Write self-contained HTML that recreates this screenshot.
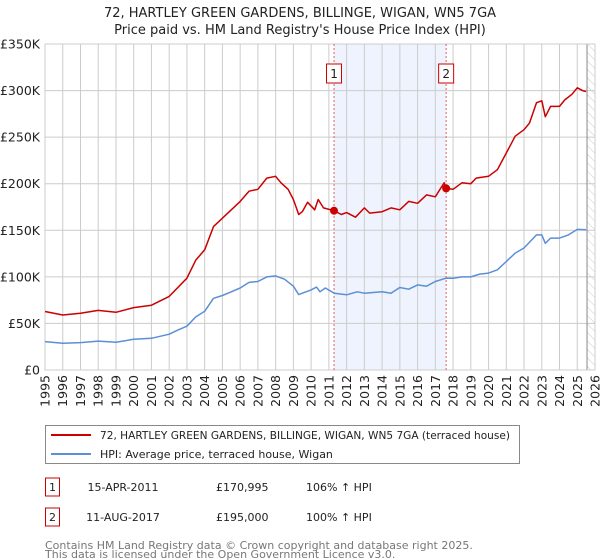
<!DOCTYPE html>
<html><head><meta charset="utf-8"><style>
body{margin:0;background:#fff;font-family:"Liberation Sans","DejaVu Sans",sans-serif}
#wrap{position:relative;width:600px;height:560px;overflow:hidden}
</style></head><body><div id="wrap">
<svg id="chart" width="600" height="560" xmlns="http://www.w3.org/2000/svg" font-family="DejaVu Sans, Liberation Sans, sans-serif"></svg>
</div>
<script>
const redYears=[1995,1996,1997,1998,1999,2000,2001,2002,2003,2003.5,2004,2004.5,2005,2005.5,2006,2006.5,2007,2007.5,2008,2008.3,2008.7,2009,2009.3,2009.5,2009.8,2010.2,2010.4,2010.7,2011.29,2011.7,2012,2012.5,2013,2013.3,2014,2014.5,2015,2015.5,2016,2016.5,2017,2017.3,2017.5,2017.61,2018,2018.5,2019,2019.3,2020,2020.5,2021,2021.5,2022,2022.3,2022.7,2023,2023.2,2023.5,2024,2024.3,2024.7,2025,2025.3,2025.5];
const redValues=[62.8,59,61,64,62,67,69.6,79,98.6,118,129,154,163,172,181,192,194,206,208,201,194,183,167,170,180,172,183,174,171,167,169,164,174,168.5,170,174,172,181,179,188,186,195,201,195,194,201,200,206,208,215,233,251,258,265,287,289,272,283,283,290,296,303,300,299];
const hpiYears=[1995,1996,1997,1998,1999,2000,2001,2002,2002.5,2003,2003.5,2004,2004.5,2005,2005.5,2006,2006.5,2007,2007.5,2008,2008.5,2009,2009.3,2009.5,2010,2010.3,2010.5,2010.8,2011.3,2012,2012.6,2013,2014,2014.5,2015,2015.5,2016,2016.5,2017,2017.6,2018,2018.5,2019,2019.5,2020,2020.5,2021,2021.5,2022,2022.7,2023,2023.2,2023.5,2024,2024.5,2025,2025.5];
const hpiValues=[30.5,28.7,29.4,31,29.8,33,34,38.4,43,47,57,63,77,80,84,88,94,95,100,101,97.5,90,81,82.5,86,89,84,88,82.5,80.7,84,82.5,84,82.5,88.6,86.8,91.4,90,95,98.6,98.6,100,100,103,104,107.6,116.5,125.5,131,145,145,136,141.6,141.6,145,151,150.6];
const saleYears=[2011.29,2017.61];
const saleValues=[170.995,195];
const saleLabels=["1","2"];
const yTicks=[0,50,100,150,200,250,300,350];
const yTickLabels=["£0","£50K","£100K","£150K","£200K","£250K","£300K","£350K"];
const xTicks=[];for(let y=1995;y<=2026;y++)xTicks.push(y);

const X0=45,X1=595,Y0=370,Y1=44;
const xs=y=>X0+(y-1995)*(X1-X0)/31;
const ys=v=>Y0-v*(Y0-Y1)/350;
const NS="http://www.w3.org/2000/svg";
const svg=document.getElementById('chart');
function mk(tag,attrs,parent){const e=document.createElementNS(NS,tag);for(const k in attrs)e.setAttribute(k,attrs[k]);(parent||svg).appendChild(e);return e;}

let t=mk('text',{x:300,y:17,'text-anchor':'middle','font-size':13,fill:'#222'});t.textContent="72, HARTLEY GREEN GARDENS, BILLINGE, WIGAN, WN5 7GA";


t=mk('text',{x:300,y:34,'text-anchor':'middle','font-size':13,fill:'#222'});t.textContent="Price paid vs. HM Land Registry's House Price Index (HPI)";



let r=mk('rect',{x:xs(saleYears[0]),y:Y1,width:xs(saleYears[1])-xs(saleYears[0]),height:Y0-Y1,fill:'#eef3fd'});


const defs=mk('defs',{});
const pat=mk('pattern',{id:'h',width:6,height:6,patternUnits:'userSpaceOnUse',patternTransform:'rotate(-45)'},defs);
mk('line',{x1:0,y1:0,x2:0,y2:6,stroke:'#ccc','stroke-width':1},pat);
const endX=xs(2025.55);
r=mk('rect',{x:endX,y:Y1,width:X1-endX,height:Y0-Y1,fill:'url(#h)'});



yTicks.forEach((v,i)=>{
 const l=mk('line',{x1:X0,x2:X1,y1:ys(v),y2:ys(v),stroke:'#cccccc','stroke-width':1});
 
 
 const tx=mk('text',{x:40,y:ys(v)+4.5,'text-anchor':'end','font-size':12.5,fill:'#222'});tx.textContent=yTickLabels[i];
 
 
});
xTicks.forEach(y=>{
 const l=mk('line',{x1:xs(y),x2:xs(y),y1:Y1,y2:Y0,stroke:'#cccccc','stroke-width':1});
 
 
 const tx=mk('text',{x:0,y:0,'text-anchor':'end','font-size':12.5,fill:'#222',transform:`translate(${xs(y)+4.5},375) rotate(-90)`});tx.textContent=y;
 
 
});
let el=mk('line',{x1:endX,x2:endX,y1:Y1,y2:Y0,stroke:'#888','stroke-width':1});


el=mk('rect',{x:X0,y:Y1,width:X1-X0,height:Y0-Y1,fill:'none',stroke:'#cccccc'});



saleYears.forEach((y,i)=>{
 const l=mk('line',{x1:xs(y),x2:xs(y),y1:Y1,y2:Y0,stroke:'#e06060','stroke-width':1,'stroke-dasharray':'2,2'});
 
 
 const b=mk('rect',{x:xs(y)-7.5,y:64,width:15,height:19,fill:'#fff',stroke:'#cc0000','stroke-width':1});
 
 
 const tx=mk('text',{x:xs(y),y:78,'text-anchor':'middle','font-size':12,fill:'#222'});tx.textContent=saleLabels[i];
 
 
});

function path(xsArr,vs,color,name){
 const d=xsArr.map((y,i)=>(i?'L':'M')+xs(y).toFixed(1)+','+ys(vs[i]).toFixed(1)).join('');
 const p=mk('path',{d,fill:'none',stroke:color,'stroke-width':1.5,'stroke-linejoin':'round'});
 
 
}
path(hpiYears,hpiValues,'#5b8fd6','hpi-line');
path(redYears,redValues,'#cc0000','price-paid-line');
saleYears.forEach((y,i)=>{
 const c=mk('circle',{cx:xs(y),cy:ys(saleValues[i]),r:4,fill:'#cc0000'});
 
 
});

const lg=mk('g',{});


mk('rect',{x:45.5,y:425.5,width:474,height:38,fill:'#fff',stroke:'#888'},lg);
el=mk('line',{x1:51,x2:91,y1:435,y2:435,stroke:'#cc0000','stroke-width':2},lg);


el=mk('text',{x:100,y:439,'font-size':11,fill:'#222','font-family':'DejaVu Sans, sans-serif',textLength:410,lengthAdjust:'spacingAndGlyphs'},lg);el.textContent="72, HARTLEY GREEN GARDENS, BILLINGE, WIGAN, WN5 7GA (terraced house)";


el=mk('line',{x1:51,x2:91,y1:454,y2:454,stroke:'#5b8fd6','stroke-width':2},lg);


el=mk('text',{x:100,y:458,'font-size':11,fill:'#222','font-family':'DejaVu Sans, sans-serif'},lg);el.textContent="HPI: Average price, terraced house, Wigan";



const rows=[["1","15-APR-2011","£170,995","106% ↑ HPI",487],["2","11-AUG-2017","£195,000","100% ↑ HPI",517]];
rows.forEach(rw=>{
 const cy=rw[4];
 el=mk('rect',{x:45.5,y:cy-9,width:14,height:18,fill:'#fff',stroke:'#cc0000'});
 
 
 const f={'font-size':11,fill:'#222','font-family':'DejaVu Sans, sans-serif'};
 el=mk('text',Object.assign({x:52.5,y:cy+4,'text-anchor':'middle'},f));el.textContent=rw[0];
 
 
 el=mk('text',Object.assign({x:123,y:cy+4,'text-anchor':'middle'},f));el.textContent=rw[1];
 
 
 el=mk('text',Object.assign({x:216,y:cy+4},f));el.textContent=rw[2];
 
 
 el=mk('text',Object.assign({x:306,y:cy+4},f));el.textContent=rw[3];
 
 
});
el=mk('text',{x:45,y:549,'font-size':11,fill:'#777','font-family':'DejaVu Sans, sans-serif'});el.textContent="Contains HM Land Registry data © Crown copyright and database right 2025.";


el=mk('text',{x:45,y:558,'font-size':11,fill:'#777','font-family':'DejaVu Sans, sans-serif'});el.textContent="This data is licensed under the Open Government Licence v3.0.";


</script></body></html>
